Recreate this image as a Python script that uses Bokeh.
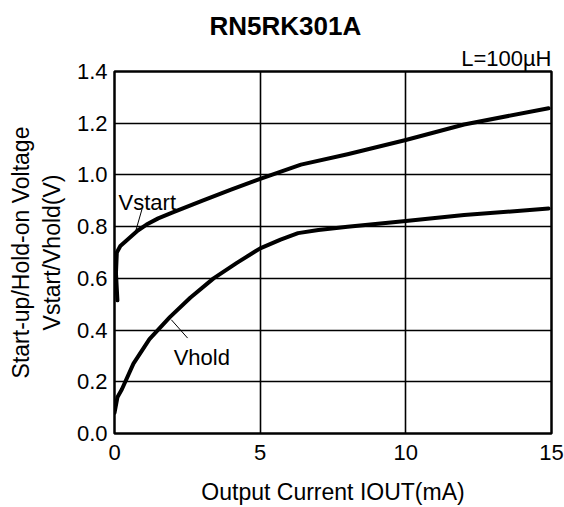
from bokeh.plotting import figure
from bokeh.models import Label, FixedTicker, Range1d, Title
from bokeh.embed import file_html
from bokeh.resources import INLINE

# ---- data ----
title_text = "RN5RK301A"
cond_text = "L=100µH"
x_ticks = [0, 5, 10, 15]
x_tick_labels = ["0", "5", "10", "15"]
y_ticks = [0.0, 0.2, 0.4, 0.6, 0.8, 1.0, 1.2, 1.4]
y_tick_labels = ["0.0", "0.2", "0.4", "0.6", "0.8", "1.0", "1.2", "1.4"]
x_grid = [5, 10]
y_grid = [0.2, 0.4, 0.6, 0.8, 1.0, 1.2]

vstart_x = [0.10, 0.05, 0.08, 0.20, 0.50, 0.80, 1.10, 1.50, 2.0, 3.0, 4.0, 5.0, 6.4, 8.0, 10.0, 12.0, 14.9]
vstart_y = [0.515, 0.62, 0.70, 0.725, 0.755, 0.785, 0.808, 0.832, 0.855, 0.90, 0.943, 0.985, 1.04, 1.08, 1.135, 1.195, 1.258]

vhold_x = [0.0, 0.10, 0.25, 0.65, 1.2, 1.9, 2.6, 3.4, 4.2, 5.0, 5.7, 6.3, 7.0, 8.0, 10.0, 12.0, 14.9]
vhold_y = [0.08, 0.14, 0.17, 0.27, 0.365, 0.45, 0.525, 0.60, 0.66, 0.716, 0.75, 0.775, 0.787, 0.80, 0.822, 0.845, 0.87]

vstart_name = "Vstart"
vhold_name = "Vhold"
vstart_leader_x = [0.95, 0.72]
vstart_leader_y = [0.870, 0.780]
vhold_leader_x = [1.95, 2.51]
vhold_leader_y = [0.44, 0.369]

x_label = "Output Current IOUT(mA)"
y_label = "Start-up/Hold-on Voltage\nVstart/Vhold(V)"

FONT = "Liberation Sans"

p = figure(width=564, height=507, x_range=Range1d(0, 15), y_range=Range1d(0, 1.4),
           output_backend="svg", toolbar_location=None,
           min_border_left=114, min_border_right=13, min_border_top=71, min_border_bottom=73)
p.background_fill_color = "white"
p.border_fill_color = "white"
p.outline_line_color = "black"
p.outline_line_width = 2.5

# titles
p.title.text = title_text
p.title.text_font = FONT
p.title.text_font_size = "26px"
p.title.text_font_style = "bold"
p.title.text_color = "black"
p.title.align = "left"
p.title.offset = 95
p.title.standoff = 4
cond = Title(text=cond_text, align="right", text_font=FONT, text_font_size="22px",
             text_font_style="normal", text_color="black", standoff=2)
p.add_layout(cond, "above")

for ax in (p.xaxis[0], p.yaxis[0]):
    ax.axis_line_color = None
    ax.major_tick_line_color = None
    ax.minor_tick_line_color = None
    ax.major_tick_in = 0
    ax.major_tick_out = 0
    ax.major_label_text_font = FONT
    ax.major_label_text_font_size = "22px"
    ax.major_label_text_color = "black"
    ax.axis_label_text_font = FONT
    ax.axis_label_text_font_size = "23px"
    ax.axis_label_text_font_style = "normal"
    ax.axis_label_text_color = "black"

p.xaxis.ticker = FixedTicker(ticks=x_ticks)
p.xaxis.major_label_overrides = {t: l for t, l in zip(x_ticks, x_tick_labels)}
p.xaxis.major_label_standoff = 11
p.xaxis.axis_label = x_label
p.xaxis.axis_label_standoff = 16

p.yaxis.ticker = FixedTicker(ticks=y_ticks)
p.yaxis.major_label_overrides = {t: l for t, l in zip(y_ticks, y_tick_labels)}
p.yaxis.major_label_standoff = 7
p.yaxis.axis_label = y_label
p.yaxis.axis_label_standoff = 9

p.xgrid.ticker = FixedTicker(ticks=x_grid)
p.ygrid.ticker = FixedTicker(ticks=y_grid)
for g in (p.xgrid[0], p.ygrid[0]):
    g.grid_line_color = "black"
    g.grid_line_width = 1.6
    g.grid_line_alpha = 1.0

p.line(vstart_x, vstart_y, line_color="black", line_width=4, line_join="round", line_cap="round")
p.line(vhold_x, vhold_y, line_color="black", line_width=4, line_join="round", line_cap="round")
p.line(vstart_leader_x, vstart_leader_y, line_color="black", line_width=1)
p.line(vhold_leader_x, vhold_leader_y, line_color="black", line_width=1)

p.add_layout(Label(x=0.14, y=0.895, text=vstart_name, text_font=FONT, text_font_size="22px",
                   text_align="left", text_baseline="alphabetic", text_color="black"))
p.add_layout(Label(x=2.03, y=0.293, text=vhold_name, text_font=FONT, text_font_size="22px",
                   text_align="left", text_baseline="alphabetic", text_color="black"))

open("out.html", "w").write(file_html(p, INLINE))
